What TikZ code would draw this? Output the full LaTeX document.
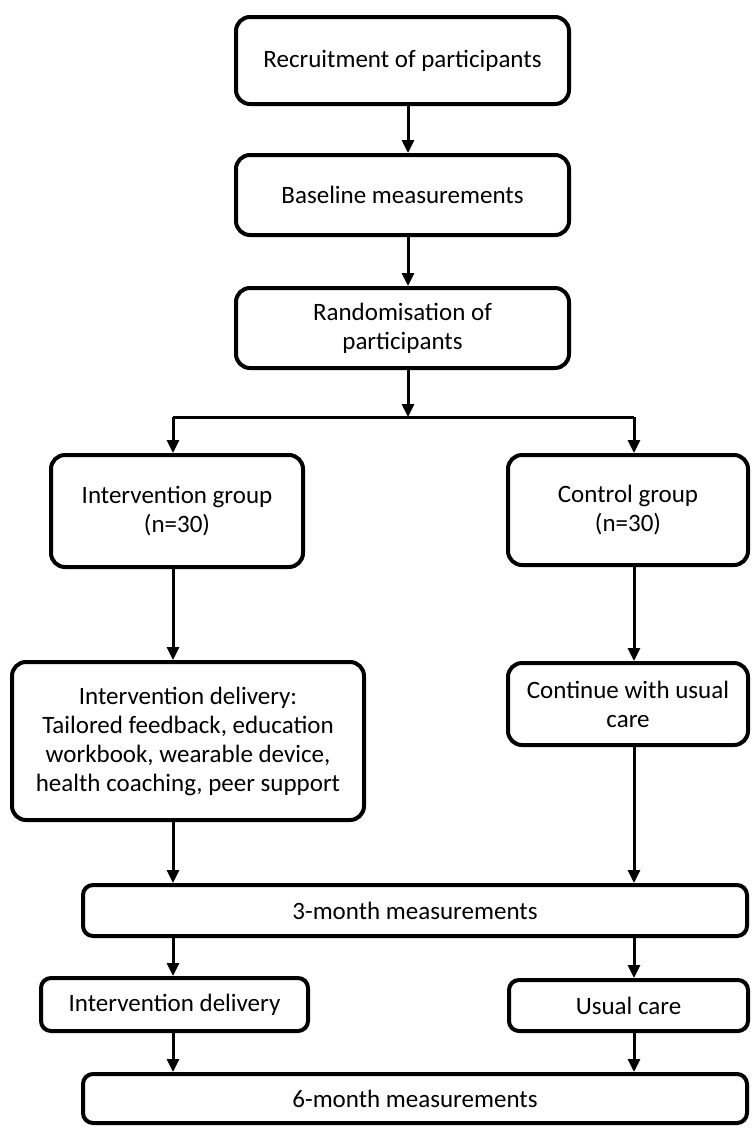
\documentclass[tikz,border=0pt]{standalone}
\usepackage{fontspec}
\setmainfont{Carlito}
\usetikzlibrary{arrows.meta}
\begin{document}
\begin{tikzpicture}[x=1pt, y=-1pt, line width=3pt, >={Triangle[length=13pt,width=12pt]},
  step box/.style={rectangle,draw,line width=4pt,rounded corners=14pt,align=center,font=\fontsize{25}{29}\selectfont,inner sep=0pt}]
\useasboundingbox (0,0) rectangle (752,1128);
\begin{scope}
\node[step box,minimum width=333pt,minimum height=87pt] (recruit) at (402.5,60.5) {Recruitment of participants};
\node[step box,minimum width=333pt,minimum height=80pt] (baseline) at (402.5,195) {Baseline measurements};
\node[step box,minimum width=333pt,minimum height=80pt] (random) at (402.5,328) {Randomisation of\\participants};
\node[step box,minimum width=252pt,minimum height=112pt] (intgroup) at (177,511) {Intervention group\\(n=30)};
\node[step box,minimum width=240pt,minimum height=110pt] (ctrlgroup) at (628,510) {Control group\\(n=30)};
\node[step box,minimum width=352pt,minimum height=158pt] (intdeliv) at (188,741) {Intervention delivery:\\Tailored feedback, education\\workbook, wearable device,\\health coaching, peer support};
\node[step box,minimum width=240pt,minimum height=82pt] (contcare) at (628,704) {Continue with usual\\care};
\node[step box,minimum width=664pt,minimum height=51pt,rounded corners=10pt] (threemonth) at (415,910.5) {3-month measurements};
\node[step box,minimum width=267pt,minimum height=53pt,rounded corners=10pt] (intdelivb) at (174.5,1004.5) {Intervention delivery};
\node[step box,minimum width=239pt,minimum height=51pt,rounded corners=10pt] (usualcare) at (628.5,1005.5) {Usual care};
\node[step box,minimum width=664pt,minimum height=49pt,rounded corners=10pt] (sixmonth) at (415,1098.5) {6-month measurements};
\coordinate (split) at (408,417);
\coordinate (splitL) at (173,417);
\coordinate (splitR) at (634,417);
\end{scope}
\begin{scope}[every path/.style={draw=black,line width=3pt}]
\draw[->] (recruit.south -| split) -- (baseline.north -| split);
\draw[->] (baseline.south -| split) -- (random.north -| split);
\draw[->] (random.south -| split) -- (split);
\draw (splitL) -- (splitR);
\draw[->] (splitL) -- (intgroup.north -| splitL);
\draw[->] (splitR) -- (ctrlgroup.north -| splitR);
\draw[->] (intgroup.south -| splitL) -- (intdeliv.north -| splitL);
\draw[->] (ctrlgroup.south -| splitR) -- (contcare.north -| splitR);
\draw[->] (intdeliv.south -| splitL) -- (threemonth.north -| splitL);
\draw[->] (contcare.south -| splitR) -- (threemonth.north -| splitR);
\draw[->] (threemonth.south -| splitL) -- (intdelivb.north -| splitL);
\draw[->] (threemonth.south -| splitR) -- (usualcare.north -| splitR);
\draw[->] (intdelivb.south -| splitL) -- (sixmonth.north -| splitL);
\draw[->] (usualcare.south -| splitR) -- (sixmonth.north -| splitR);
\end{scope}
\end{tikzpicture}
\end{document}
